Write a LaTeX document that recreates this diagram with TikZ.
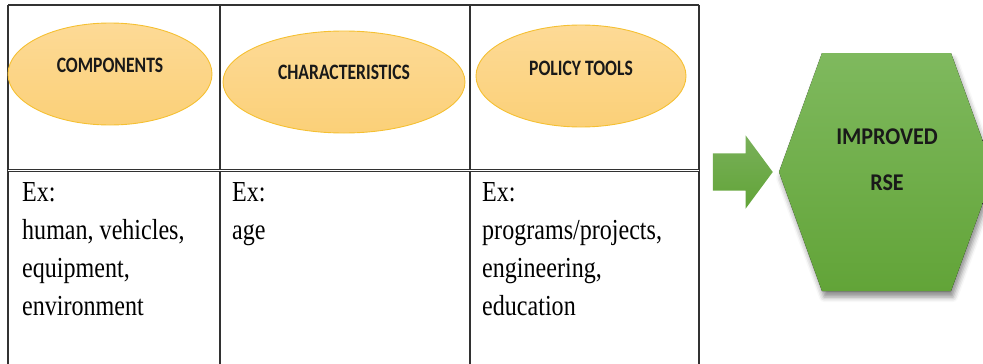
\documentclass[tikz,border=0pt]{standalone}
\usepackage{fontspec}
\setmainfont{Liberation Serif}
\newfontfamily\ovalfont[FakeStretch=0.8]{Carlito}
\newfontfamily\cellfont[FakeStretch=0.83]{Liberation Serif}
\newfontfamily\blockfont[FakeStretch=0.92]{Carlito}
\usetikzlibrary{positioning, shapes, shadows.blur}
\definecolor{ovaltop}{RGB}{253,218,150}
\definecolor{ovalbottom}{RGB}{251,208,120}
\definecolor{ovalline}{RGB}{245,192,50}
\definecolor{greentop}{RGB}{127,185,94}
\definecolor{greenbottom}{RGB}{98,164,56}
\definecolor{gridgray}{RGB}{50,50,50}
\tikzset{
        grid line/.style={draw=gridgray, line width=1.3pt}, % table rules
        yellow oval/.style={
		ellipse,
		draw=ovalline,
		line width=0.9pt,
		top color=ovaltop,
		bottom color=ovalbottom,
		minimum width={#1},
		minimum height=102pt,
		inner sep=0pt,
	  },
        oval text/.style={font=\ovalfont\bfseries\fontsize{22}{24}\selectfont, text=black!90},
        cell text/.style={
		anchor=north west,
		inner sep=0pt,
		align=left,
		font=\cellfont\fontsize{29}{38}\selectfont,
	  },
        green arrow/.style={
		single arrow,
		top color=greentop!95!black,
		bottom color=greenbottom,
		text height=18.5pt, % half the shaft
		text depth=18.5pt,
		minimum height=60pt,
		single arrow head extend=18pt,
		single arrow tip angle=107,
		inner sep=0pt,
	  },
  	}

\begin{document}
\begin{tikzpicture}[x=1pt, y=-1pt]
    \useasboundingbox (0,0) rectangle (983,364);
    % table
    \draw[grid line] (8,5) -- (699,5);
    \draw[grid line] (8,5) -- (8,380);
    \draw[grid line] (220,5) -- (220,380);
    \draw[grid line] (470,5) -- (470,380);
    \draw[grid line] (699,5) -- (699,380);
    \draw[gridgray, line width=0.8pt, double, double distance=1.2pt] (8,170.5) -- (699,170.5);
    % headers
    \node [yellow oval=204pt] (comp) at (110,74) {};
    \node [yellow oval=242pt] (char) at (344,82) {};
    \node [yellow oval=210pt] (tools) at (581,76) {};
    \node [oval text] (compText) at ([yshift=9pt]comp.center) {COMPONENTS};
    \node [oval text] (charText) at ([yshift=10pt]char.center) {CHARACTERISTICS};
    \node [oval text] (toolsText) at ([yshift=8pt]tools.center) {POLICY TOOLS};
    % examples
    \node [cell text] (compEx) at (22,182) {Ex:\\human, vehicles,\\equipment,\\environment};
    \node [cell text] (charEx) at (232,182) {Ex:\\age};
    \node [cell text] (toolsEx) at (482,182) {Ex:\\programs/projects,\\engineering,\\education};
    % result
    \coordinate (hexW) at (779,172);
    \coordinate (hexNW) at (822,53);
    \coordinate (hexNE) at (951,53);
    \coordinate (hexE) at (994,172);
    \coordinate (hexSE) at (951,291);
    \coordinate (hexSW) at (822,291);
    \fill[top color=greentop, bottom color=greenbottom,
          blur shadow={shadow xshift=2pt, shadow yshift=-6pt, shadow blur radius=5pt, shadow opacity=45}]
        (hexW) -- (hexNW) -- (hexNE) -- (hexE) -- (hexSE) -- (hexSW) -- cycle;
    \node [align=center, font=\blockfont\bfseries\fontsize{24}{46}\selectfont, text=black!90] (rse) at (887,160) {IMPROVED\\RSE};
    \node [green arrow, anchor=tip] (flow) at (773,172) {};
  \end{tikzpicture}
\end{document}
